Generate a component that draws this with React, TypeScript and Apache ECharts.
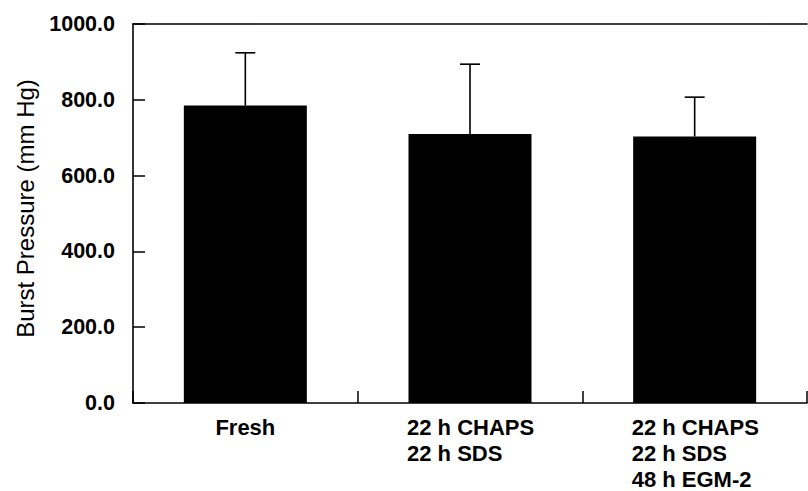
import React, { useEffect, useRef } from "react";
import * as echarts from "echarts";

const categories = ["Fresh", "22 h CHAPS\n22 h SDS", "22 h CHAPS\n22 h SDS\n48 h EGM-2"];
const meanValues = [785, 710, 703];
const upperErrorValues = [924, 894, 807];
const yTicks = { min: 0, max: 1000, interval: 200 };
const yAxisTitle = "Burst Pressure (mm Hg)";

export default function App() {
  const ref = useRef<HTMLDivElement>(null);

  useEffect(() => {
    if (!ref.current) return;
    const chart = echarts.init(ref.current, undefined, { renderer: "svg" });
    const font = "'Liberation Sans', Arial, sans-serif";
    chart.setOption({
      animation: false,
      backgroundColor: "#ffffff",
      grid: {
        left: 133,
        right: 1,
        top: 24,
        bottom: 88,
        containLabel: false,
        outerBoundsMode: "none",
      },
      graphic: [
        {
          type: "text",
          x: 25,
          y: 208.5,
          rotation: Math.PI / 2,
          style: {
            text: yAxisTitle,
            fontFamily: font,
            fontSize: 24,
            fill: "#000",
            align: "center",
            verticalAlign: "middle",
          },
        },
      ],
      xAxis: [
        {
          type: "category",
          data: categories,
          position: "bottom",
          axisLine: { show: true, lineStyle: { color: "#000", width: 1.6 } },
          axisTick: { show: true, inside: true, length: 12, lineStyle: { color: "#000", width: 1.5 } },
          axisLabel: {
            show: true,
            margin: 11,
            fontFamily: font,
            fontWeight: "bold",
            fontSize: 22,
            lineHeight: 26,
            color: "#000",
            align: "center",
            formatter: (v: string) => {
              const lines = v.split("\n");
              if (lines.length === 1) return v;
              return lines.map((l) => "{b|" + l + "}").join("\n");
            },
            rich: {
              b: {
                width: 126,
                align: "left",
                fontFamily: font,
                fontWeight: "bold",
                fontSize: 22,
                lineHeight: 26,
                color: "#000",
              },
            },
          },
          splitLine: { show: false },
        },
        {
          type: "category",
          data: categories,
          position: "top",
          axisLine: { show: true, lineStyle: { color: "#000", width: 1.6 } },
          axisTick: { show: false },
          axisLabel: { show: false },
          splitLine: { show: false },
        },
      ],
      yAxis: {
        type: "value",
        min: yTicks.min,
        max: yTicks.max,
        interval: yTicks.interval,
        axisLine: { show: true, lineStyle: { color: "#000", width: 1.6 } },
        axisTick: { show: true, inside: true, length: 12, lineStyle: { color: "#000", width: 1.5 } },
        axisLabel: {
          margin: 18,
          fontFamily: font,
          fontWeight: "bold",
          fontSize: 21.5,
          color: "#000",
          formatter: (v: number) => v.toFixed(1),
        },
        splitLine: { show: false },
      },
      series: [
        {
          type: "bar",
          data: meanValues,
          barWidth: 123,
          itemStyle: { color: "#000" },
          z: 2,
        },
        {
          type: "custom",
          data: meanValues.map((m, i) => [i, m, upperErrorValues[i]]),
          z: 3,
          renderItem: (params: any, api: any) => {
            const idx = api.value(0);
            const base = api.coord([idx, api.value(1)]);
            const top = api.coord([idx, api.value(2)]);
            const half = 10;
            return {
              type: "group",
              children: [
                {
                  type: "line",
                  shape: { x1: base[0], y1: base[1], x2: top[0], y2: top[1] },
                  style: { stroke: "#000", lineWidth: 1.6 },
                },
                {
                  type: "line",
                  shape: { x1: top[0] - half, y1: top[1], x2: top[0] + half, y2: top[1] },
                  style: { stroke: "#000", lineWidth: 1.6 },
                },
              ],
            };
          },
        },
      ],
    });
    return () => chart.dispose();
  }, []);

  return (
    <div
      ref={ref}
      style={{ position: "fixed", left: 0, top: 0, width: 808, height: 491, background: "#fff" }}
    />
  );
}
